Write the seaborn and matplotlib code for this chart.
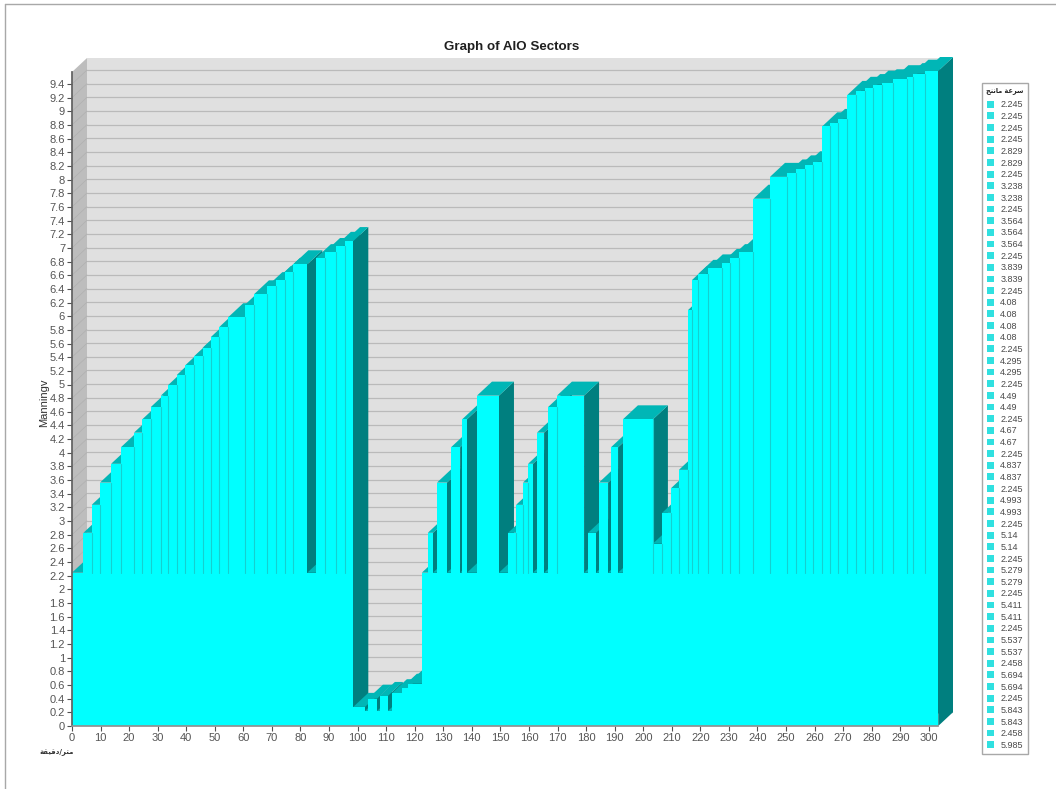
import seaborn as sns
import numpy as np
import matplotlib.pyplot as plt
from matplotlib.lines import Line2D
from matplotlib.patches import Patch

# bar boundaries along the section (m) and the height of each bar
edges = [0, 4.0, 6.9, 9.8, 13.7, 17.1, 21.7, 24.6, 27.6, 31.1, 33.7, 36.7, 39.6, 42.7, 45.7,
         48.6, 51.6, 54.7, 60.6, 63.7, 68.4, 71.4, 74.6, 77.5, 82.4, 85.4, 88.6, 92.4, 95.6,
         98.5, 102.6, 103.6, 106.8, 107.8, 110.6, 112.0, 115.5, 117.6, 122.5, 124.6, 126.4,
         127.8, 131.3, 132.7, 135.9, 136.6, 138.3, 141.8, 149.5, 152.7, 155.5, 157.9, 159.7,
         161.4, 162.8, 165.3, 166.7, 169.8, 179.3, 180.7, 183.5, 184.5, 187.7, 188.7, 191.2,
         192.9, 203.4, 206.6, 209.7, 212.5, 215.7, 217.1, 219.3, 222.6, 227.5, 230.4, 233.6,
         238.6, 244.4, 250.5, 253.5, 256.7, 259.6, 262.7, 265.4, 268.3, 271.5, 274.4, 277.7,
         280.6, 283.5, 287.6, 292.5, 294.6, 298.7, 303.3]
heights = [2.245, 2.829, 3.238, 3.564, 3.839, 4.08, 4.295, 4.49, 4.67, 4.837, 4.993, 5.14,
           5.279, 5.411, 5.537, 5.694, 5.843, 5.985, 6.17, 6.32, 6.44, 6.53, 6.65, 6.76,
           2.245, 6.85, 6.94, 7.03, 7.10,
           0.28, 0.22, 0.40, 0.22, 0.44, 0.22, 0.48, 0.56, 0.62,
           2.245, 2.829, 2.245, 3.564, 2.245, 4.08, 2.245, 4.49, 2.245, 4.837, 2.245,
           2.829, 3.238, 3.564, 3.839, 2.245, 4.295, 2.245, 4.67, 4.837, 2.245, 2.829, 2.245,
           3.564, 2.245, 4.08, 2.245, 4.49, 2.67, 3.12, 3.48, 3.75,
           6.09, 6.53, 6.62, 6.70, 6.78, 6.85, 6.94, 7.72, 8.04, 8.09, 8.15, 8.21, 8.26,
           8.78, 8.83, 8.89, 9.24, 9.30, 9.34, 9.39, 9.41, 9.47, 9.50, 9.55, 9.59]

legend_values = ["2.245", "2.245", "2.245", "2.245", "2.829", "2.829", "2.245", "3.238", "3.238",
                 "2.245", "3.564", "3.564", "3.564", "2.245", "3.839", "3.839", "2.245", "4.08",
                 "4.08", "4.08", "4.08", "2.245", "4.295", "4.295", "2.245", "4.49", "4.49",
                 "2.245", "4.67", "4.67", "2.245", "4.837", "4.837", "2.245", "4.993", "4.993",
                 "2.245", "5.14", "5.14", "2.245", "5.279", "5.279", "2.245", "5.411", "5.411",
                 "2.245", "5.537", "5.537", "2.458", "5.694", "5.694", "2.245", "5.843", "5.843",
                 "2.458", "5.985"]

x_ticks = list(range(0, 301, 10))
y_ticks = [round(0.2 * i, 1) for i in range(48)]

# arabic text in visual order, matplotlib does no shaping
legend_title = "\ufe9e\ufee8\ufee7\ufe8e\ufee3 \ufe94\ufecb\ufeae\ufeb3"   # sur'at manning
x_title = "\ufe94\ufed8\ufef4\ufed7\ufea9/\ufeae\ufe98\ufee3"               # metre/minute

FRONT, SIDE, TOP = "#00ffff", "#007f7f", "#00b6b6"
DEPTH_X, DEPTH_Y = 5.25, 0.205

sns.set_theme(style="white")
plt.rcParams['font.family'] = ['Liberation Sans', 'DejaVu Sans']

fig = plt.figure(figsize=(10.56, 7.89), dpi=100)
ax = fig.add_axes([72 / 1056, 63 / 789, 881 / 1056, 669 / 789])
ax.set_xlim(0, 881 / 2.856)
ax.set_ylim(0, 669 / 68.3)
ax.patch.set_visible(False)

top_y = 9.575

# back wall and left wall
ax.fill([DEPTH_X, 308.5, 308.5, DEPTH_X], [DEPTH_Y, DEPTH_Y, top_y + DEPTH_Y, top_y + DEPTH_Y],
        color="#e0e0e0", lw=0, zorder=0)
ax.fill([0, DEPTH_X, DEPTH_X, 0], [0, DEPTH_Y, top_y + DEPTH_Y, top_y],
        color="#bdbdbd", lw=0, zorder=0)
for y in y_ticks:
    ax.plot([DEPTH_X, 308.5], [y + DEPTH_Y, y + DEPTH_Y], color="#bababa", lw=0.9, zorder=1)
    ax.plot([0, DEPTH_X], [y, y + DEPTH_Y], color="#b0b0b0", lw=0.5, zorder=1)

# front faces
sns.histplot(x=edges[:-1], weights=heights, bins=edges, color=FRONT, alpha=1, linewidth=0, ax=ax)
fronts = list(ax.containers[0])

for i, (h, bar) in enumerate(zip(heights, fronts)):
    x0, x1 = edges[i], edges[i + 1]
    z = 3 + 3 * i
    ax.fill([x1, x1 + DEPTH_X, x1 + DEPTH_X, x1], [0, DEPTH_Y, h + DEPTH_Y, h],
            color=SIDE, lw=0, zorder=z)
    ax.fill([x0, x0 + DEPTH_X, x1 + DEPTH_X, x1], [h, h + DEPTH_Y, h + DEPTH_Y, h],
            color=TOP, lw=0, zorder=z + 1)
    bar.set_zorder(z + 2)
    bar.set_antialiased(False)

# thin seams where neighbouring tall bars meet
seam_z = 3 + 3 * len(heights)
for i in range(len(heights) - 1):
    if heights[i] > 2.3 and heights[i + 1] > 2.3:
        ax.plot([edges[i + 1]] * 2, [2.245, heights[i]], color="#14d0d0", lw=0.8, zorder=seam_z)

ax.set_xticks(x_ticks)
ax.set_yticks(y_ticks)
ax.set_xticklabels([str(v) for v in x_ticks])
ax.set_yticklabels([f"{v:g}" for v in y_ticks])
ax.tick_params(axis='both', labelsize=8, labelcolor="#555555", color="#505050", length=3.5,
               width=0.8, pad=1.5, left=True, bottom=True)
ax.set_xlabel("")
ax.set_ylabel("Manningv", fontsize=8, color="#303030")
ax.yaxis.set_label_coords((49 - 72) / 881, (726 - 403) / 669)

for name in ['top', 'right']:
    ax.spines[name].set_visible(False)
ax.spines['left'].set_bounds(0, top_y)
ax.spines['left'].set_color("#606060")
ax.spines['left'].set_zorder(seam_z + 1)
ax.spines['bottom'].set_bounds(0, 303.3)
ax.spines['bottom'].set_color("#909090")
ax.spines['bottom'].set_zorder(seam_z + 1)

fig.text(512 / 1056, 1 - 47 / 789, "Graph of AIO Sectors", fontsize=9.6, fontweight='bold',
         ha='center', va='center', color="#202020")
fig.text(57 / 1056, 1 - 752 / 789, x_title, fontsize=5, fontweight='bold', family=['DejaVu Sans'],
         ha='center', va='center', color="#303030")

handles = [Patch(facecolor="#30e0e0", edgecolor='none') for _ in legend_values]
leg = fig.legend(handles, legend_values, title=legend_title, loc='upper left',
                 bbox_to_anchor=(982 / 1056, 1 - 83 / 789), borderaxespad=0, fontsize=6.5,
                 handlelength=0.78, handleheight=0.78, handletextpad=0.72, labelspacing=0.293,
                 borderpad=0.45, frameon=True, fancybox=False, edgecolor="#a8a8a8",
                 facecolor="white", framealpha=1,
                 title_fontproperties={'family': 'DejaVu Sans', 'weight': 'bold', 'size': 4.7})
leg._legend_box.sep = 4.6  # a bit more room under the title
for text in leg.get_texts():
    text.set_color("#4a4a4a")
leg.get_frame().set_linewidth(1)

# outer border of the sheet
fig.add_artist(Line2D([5 / 1056, 5 / 1056], [0, 1 - 4 / 789], color="#a8a8a8", lw=1))
fig.add_artist(Line2D([5 / 1056, 1], [1 - 4 / 789, 1 - 4 / 789], color="#a8a8a8", lw=1))

fig.savefig("out.png", dpi=100)
